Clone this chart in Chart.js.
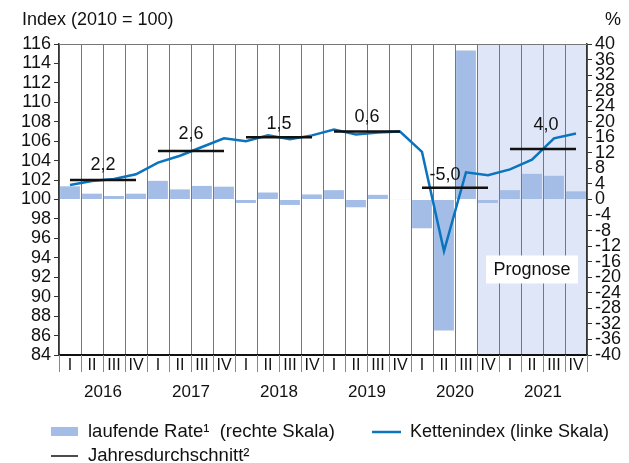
<!DOCTYPE html>
<html>
<head>
<meta charset="utf-8">
<script src="https://cdn.jsdelivr.net/npm/chart.js@4/dist/chart.umd.min.js"></script>
<style>
  html, body { margin: 0; padding: 0; background: #fff; }
  #wrap { width: 629px; height: 463px; }
</style>
</head>
<body>
<div id="wrap"><canvas id="chart" width="629" height="463"></canvas></div>
<script>
// ================= DATA =================
let years = ["2016", "2017", "2018", "2019", "2020", "2021"];
let quarters = ["I", "II", "III", "IV"];

// laufende Rate (rechte Skala, %)
let rate = [3.4, 1.5, 0.9, 1.5, 4.8, 2.6, 3.5, 3.3, -0.9, 1.8, -1.4, 1.3,
            2.4, -2.0, 1.2, -0.1, -7.4, -33.7, 38.3, -0.9, 2.4, 6.6, 6.1, 2.1];

// Kettenindex (linke Skala, 2010 = 100)
let chainIndex = [101.5, 101.9, 102.1, 102.6, 103.8, 104.5, 105.4, 106.3, 106.0, 106.6, 106.2, 106.6,
                  107.2, 106.7, 106.9, 107.0, 104.9, 94.7, 102.8, 102.5, 103.1, 104.1, 106.3, 106.8];

// Jahresdurchschnitt (Lage auf linker Skala) und Beschriftung
let avgLevel = [102.0, 105.0, 106.4, 107.0, 101.2, 105.2];
let avgText = ["2,2", "2,6", "1,5", "0,6", "-5,0", "4,0"];

let leftTicks = { min: 84, max: 116, step: 2 };
let rightTicks = { min: -40, max: 40, step: 4 };
let forecastFrom = 19; // 2020 IV

// ================= COLORS / FONTS =================
const BAR = "#a3bde6";
const LINE = "#0a74bf";
const SHADE = "#dfe6f7";
const FONT = "'Liberation Sans', Arial, sans-serif";

let labels = [];
years.forEach(y => quarters.forEach(q => labels.push(q)));

// one dataset per year for the black average lines
let avgSets = avgLevel.map((v, i) => {
    let d = labels.map(() => null);
    for (let k = 0; k < 4; k++) d[i * 4 + k] = v;
    return {
        type: "line",
        data: d,
        yAxisID: "y",
        borderColor: "#111",
        borderWidth: 2.5,
        pointRadius: 0,
        spanGaps: false,
        order: 1
    };
});

// ================= PLUGIN =================
const decor = {
    id: "decor",
    beforeDraw(chart) {
        let ctx = chart.ctx;
        let a = chart.chartArea;
        let x = chart.scales.x;
        let half = (x.getPixelForValue(1) - x.getPixelForValue(0)) / 2;
        let left = x.getPixelForValue(forecastFrom) - half;
        ctx.save();
        ctx.fillStyle = SHADE;
        ctx.fillRect(left, a.top, a.right - left, a.bottom - a.top);
        ctx.restore();
    },
    afterDatasetsDraw(chart) {
        let ctx = chart.ctx;
        let x = chart.scales.x;
        let y = chart.scales.y;
        let y2 = chart.scales.y2;
        let a = chart.chartArea;
        ctx.save();
        // average labels
        let shift = [[0, 15], [0, 17], [0, 13], [0, 14], [-10, 13], [3, 24]];
        ctx.font = "18px " + FONT;
        ctx.fillStyle = "#111";
        ctx.textAlign = "center";
        ctx.textBaseline = "middle";
        avgText.forEach((t, i) => {
            let cx = (x.getPixelForValue(i * 4 + 1) + x.getPixelForValue(i * 4 + 2)) / 2;
            let cy = y.getPixelForValue(avgLevel[i]);
            ctx.fillText(t, cx + shift[i][0], cy - shift[i][1]);
        });
        // Prognose box
        let half = (x.getPixelForValue(1) - x.getPixelForValue(0)) / 2;
        let left = x.getPixelForValue(forecastFrom) - half;
        let bx = (left + a.right) / 2;
        let by = y2.getPixelForValue(-18);
        ctx.fillStyle = "#fff";
        ctx.fillRect(bx - 46, by - 14, 92, 28);
        ctx.fillStyle = "#111";
        ctx.fillText("Prognose", bx, by + 1);
        ctx.restore();
    },
    afterDraw(chart) {
        let ctx = chart.ctx;
        let a = chart.chartArea;
        let x = chart.scales.x;
        let half = (x.getPixelForValue(1) - x.getPixelForValue(0)) / 2;
        ctx.save();
        // top frame
        ctx.strokeStyle = "#777";
        ctx.lineWidth = 1;
        ctx.beginPath();
        ctx.moveTo(a.left, a.top + 0.5);
        ctx.lineTo(a.right, a.top + 0.5);
        ctx.stroke();
        // separators below the axis
        ctx.strokeStyle = "#888";
        for (let i = 0; i <= labels.length; i++) {
            let px = Math.round(x.getPixelForValue(i) - half) + 0.5;
            ctx.beginPath();
            ctx.moveTo(px, a.bottom);
            ctx.lineTo(px, a.bottom + 17);
            ctx.stroke();
        }
        // years
        ctx.fillStyle = "#111";
        ctx.font = "17px " + FONT;
        ctx.textAlign = "center";
        ctx.textBaseline = "middle";
        years.forEach((yr, i) => {
            let cx = (x.getPixelForValue(i * 4 + 1) + x.getPixelForValue(i * 4 + 2)) / 2;
            ctx.fillText(yr, cx, a.bottom + 37);
        });
        // axis titles
        ctx.font = "18px " + FONT;
        ctx.textAlign = "left";
        ctx.fillText("Index (2010 = 100)", 22, 20);
        ctx.fillText("%", 605, 20);
        // legend
        ctx.font = "18.5px " + FONT;
        ctx.fillStyle = BAR;
        ctx.fillRect(51, 427, 27, 9);
        ctx.strokeStyle = LINE;
        ctx.lineWidth = 2.5;
        ctx.beginPath();
        ctx.moveTo(372, 432);
        ctx.lineTo(401, 432);
        ctx.stroke();
        ctx.strokeStyle = "#111";
        ctx.lineWidth = 1.5;
        ctx.beginPath();
        ctx.moveTo(51, 456);
        ctx.lineTo(78, 456);
        ctx.stroke();
        ctx.fillStyle = "#111";
        ctx.fillText("laufende Rate\u00b9  (rechte Skala)", 88, 432);
        ctx.font = "18px " + FONT;
        ctx.fillText("Kettenindex (linke Skala)", 410, 432);
        ctx.font = "18.5px " + FONT;
        ctx.fillText("Jahresdurchschnitt\u00b2", 88, 456);
        ctx.restore();
    }
};

// ================= CHART =================
new Chart(document.getElementById("chart"), {
    type: "bar",
    data: {
        labels: labels,
        datasets: [
            {
                type: "bar",
                data: rate,
                yAxisID: "y2",
                backgroundColor: BAR,
                barPercentage: 0.9,
                categoryPercentage: 1,
                order: 3
            },
            {
                type: "line",
                data: chainIndex,
                yAxisID: "y",
                borderColor: LINE,
                borderWidth: 2.5,
                pointRadius: 0,
                tension: 0,
                order: 2
            },
            ...avgSets
        ]
    },
    options: {
        responsive: false,
        animation: false,
        layout: { padding: { top: 44, left: 0, right: 0, bottom: 88 } },
        plugins: { legend: { display: false }, tooltip: { enabled: false } },
        scales: {
            x: {
                afterFit: s => { s.height = 20; },
                grid: { offset: true, color: "#777", lineWidth: 1, drawTicks: false },
                border: { color: "#111", width: 2 },
                ticks: { color: "#111", font: { family: FONT, size: 16 }, padding: 1, maxRotation: 0, autoSkip: false }
            },
            y: {
                position: "left",
                min: leftTicks.min,
                max: leftTicks.max,
                afterFit: s => { s.width = 59; },
                grid: { drawOnChartArea: false, drawTicks: true, tickLength: 5, color: "#333" },
                border: { color: "#333", width: 1.5 },
                ticks: {
                    stepSize: leftTicks.step, autoSkip: false, padding: 3, color: "#111",
                    font: { family: FONT, size: 18 },
                    callback: v => String(v)
                }
            },
            y2: {
                position: "right",
                min: rightTicks.min,
                max: rightTicks.max,
                afterFit: s => { s.width = 42; },
                grid: { drawOnChartArea: false, drawTicks: true, tickLength: 5, color: "#333" },
                border: { color: "#333", width: 1.5 },
                ticks: {
                    stepSize: rightTicks.step, autoSkip: false, padding: 3, color: "#111",
                    font: { family: FONT, size: 18 },
                    callback: v => String(v)
                }
            }
        }
    },
    plugins: [decor]
});
</script>
</body>
</html>
